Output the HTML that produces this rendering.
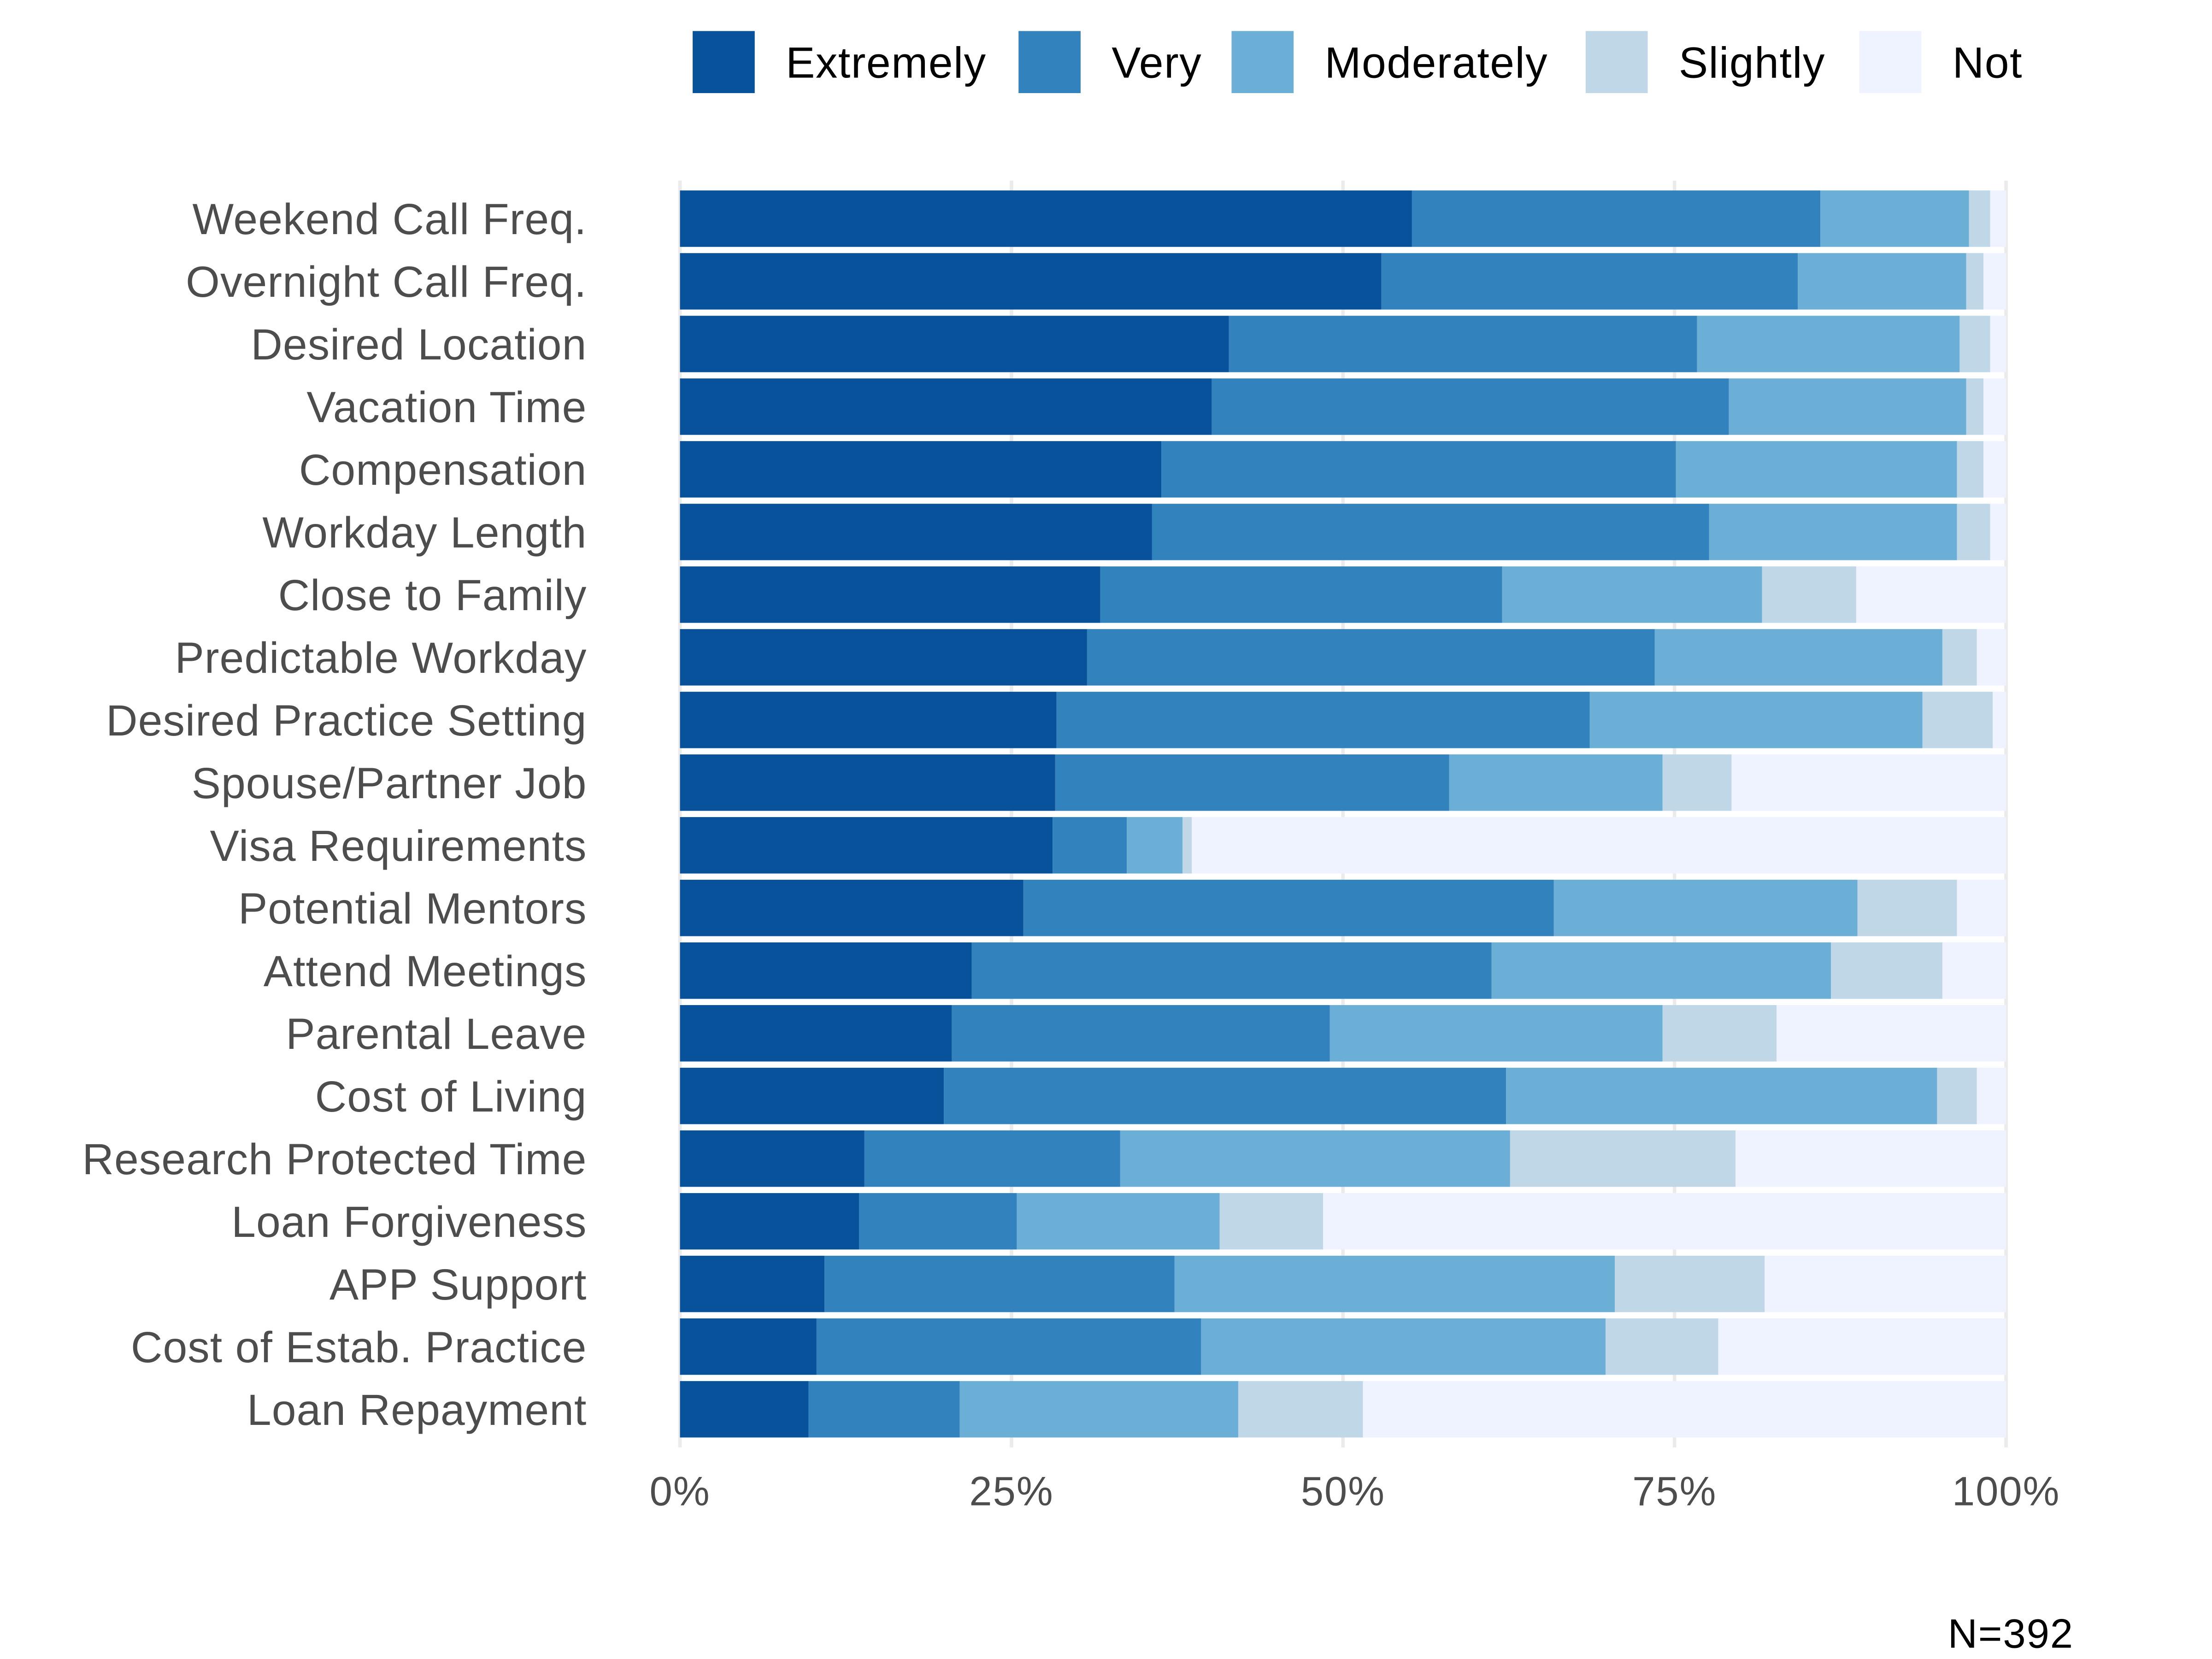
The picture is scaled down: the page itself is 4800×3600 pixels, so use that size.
<!DOCTYPE html>
<html><head><meta charset="utf-8"><style>
html,body{margin:0;padding:0;background:#fff;}
svg{display:block;font-family:"Liberation Sans",sans-serif;}
</style></head><body>
<svg id="chart" width="4800" height="3600" viewBox="0 0 1568 1176" preserveAspectRatio="none" xmlns="http://www.w3.org/2000/svg">
<g id="grid"></g>
<g id="bars"></g>
<g id="ylabels"></g>
<g id="xlabels"></g>
<g id="legend"></g>
<text x="1470" y="1168" text-anchor="end" font-size="29" letter-spacing="0.6" fill="#000">N=392</text>
</svg>
<script>
const categories = ["Weekend Call Freq.","Overnight Call Freq.","Desired Location","Vacation Time","Compensation","Workday Length","Close to Family","Predictable Workday","Desired Practice Setting","Spouse/Partner Job","Visa Requirements","Potential Mentors","Attend Meetings","Parental Leave","Cost of Living","Research Protected Time","Loan Forgiveness","APP Support","Cost of Estab. Practice","Loan Repayment"];
const extremely = [55.2,52.9,41.4,40.1,36.3,35.6,31.7,30.7,28.4,28.3,28.1,25.9,22.0,20.5,19.9,13.9,13.5,10.9,10.3,9.7];
const very = [30.8,31.4,35.3,39.0,38.8,42.0,30.3,42.8,40.2,29.7,5.6,40.0,39.2,28.5,42.4,19.3,11.9,26.4,29.0,11.4];
const moderately = [11.2,12.7,19.8,17.9,21.2,18.7,19.6,21.7,25.1,16.1,4.2,22.9,25.6,25.1,32.5,29.4,15.3,33.2,30.5,21.0];
const slightly = [1.6,1.3,2.3,1.3,2.0,2.5,7.1,2.6,5.3,5.2,0.7,7.5,8.4,8.6,3.0,17.0,7.8,11.3,8.5,9.4];
const seriesNames = ["Extremely","Very","Moderately","Slightly","Not"];
const tickLabels = ["0%","25%","50%","75%","100%"];
const tickValues = [0,25,50,75,100];

const colors = ["#08529c","#3182bd","#6baed6","#bfd7e7","#eff3ff"];
const NS="http://www.w3.org/2000/svg";
const X0=482,X1=1422,Y0=155,STEP=44.42,BH=40;
const xScale=v=>X0+(X1-X0)*v/100;
const yScale=i=>Y0+i*STEP;
function mk(tag,attrs,parent){const e=document.createElementNS(NS,tag);for(const k in attrs)e.setAttribute(k,attrs[k]);parent.appendChild(e);return e;}
const grid=document.getElementById('grid'),bars=document.getElementById('bars'),yl=document.getElementById('ylabels'),xl=document.getElementById('xlabels'),lg=document.getElementById('legend');
tickValues.forEach((t,i)=>{
  const l=mk('line',{x1:xScale(t),x2:xScale(t),y1:128,y2:1026,stroke:'#ebebeb','stroke-width':2.5},grid);
  
  
  const tx=mk('text',{x:xScale(t),y:1067,'text-anchor':'middle','font-size':29,'letter-spacing':0.6,fill:'#4d4d4d'},xl);
  tx.textContent=tickLabels[i];
  
  
});
categories.forEach((c,i)=>{
  const vals=[extremely[i],very[i],moderately[i],slightly[i]];
  vals.push(100-vals.reduce((a,b)=>a+b,0));
  let cum=0;
  vals.forEach((v,s)=>{
    const r=mk('rect',{x:xScale(cum),y:yScale(i)-BH/2,width:xScale(cum+v)-xScale(cum),height:BH,fill:colors[s]},bars);
    
    
    cum+=v;
  });
  const t=mk('text',{x:416,y:yScale(i)+11,'text-anchor':'end','font-size':31,'letter-spacing':0.35,fill:'#4d4d4d'},yl);
  t.textContent=c;
  
  
});
const lx=[491,722,873,1124,1318];
seriesNames.forEach((n,s)=>{
  const g=mk('g',{},lg);
  
  
  mk('rect',{x:lx[s],y:22,width:44,height:44,fill:colors[s]},g);
  const t=mk('text',{x:lx[s]+66,y:55,'font-size':31,'letter-spacing':0.5,fill:'#000'},g);
  t.textContent=n;
});
</script>
</body></html>
